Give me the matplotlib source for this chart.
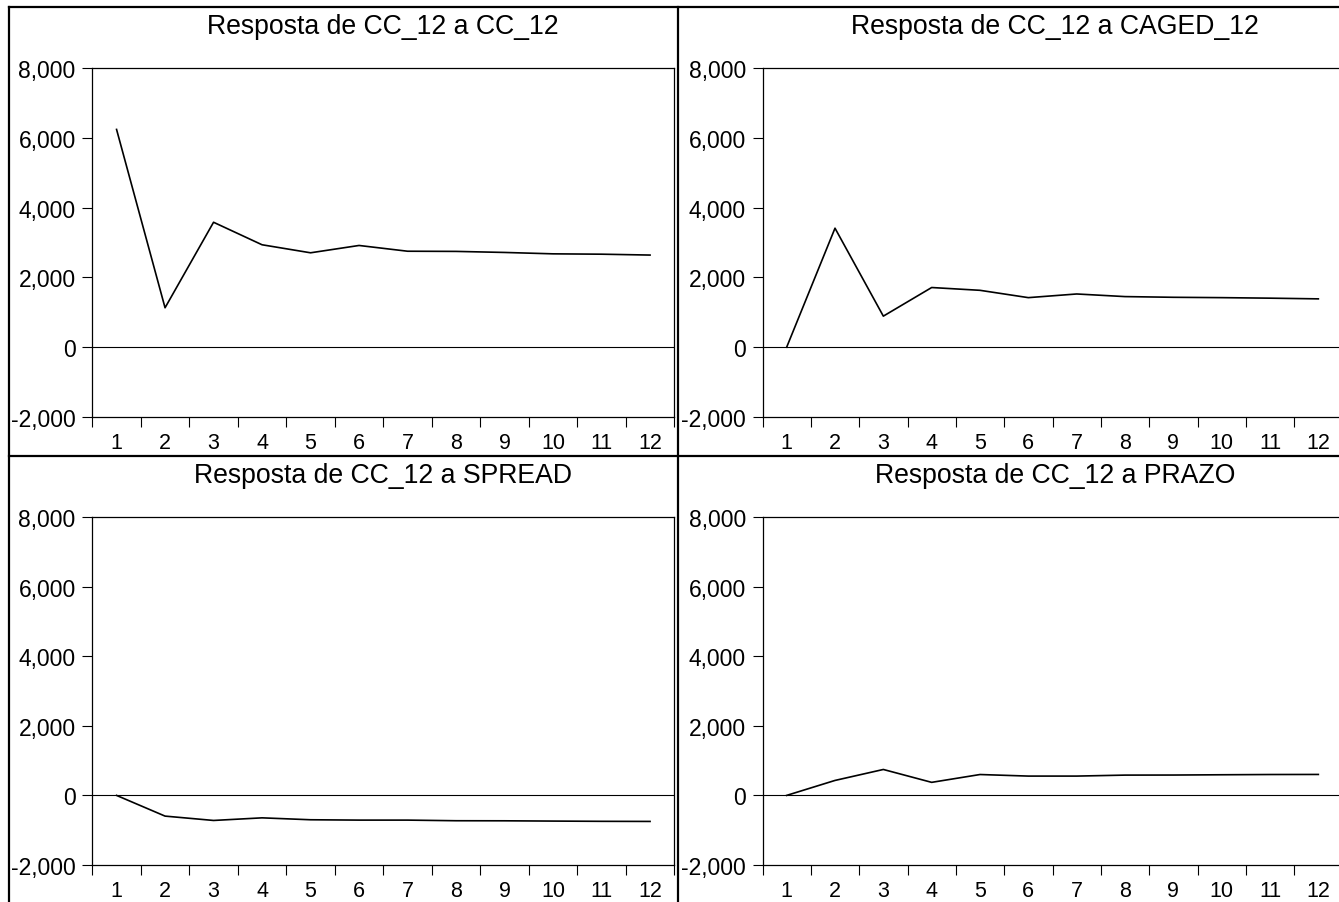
import matplotlib
matplotlib.use("Agg")
import matplotlib.pyplot as plt
from matplotlib.lines import Line2D
from matplotlib.ticker import FuncFormatter

plt.rcParams['font.family'] = ['Liberation Sans', 'DejaVu Sans']
plt.rcParams['axes.unicode_minus'] = False

periods = list(range(1, 13))
titles = ["Resposta de CC_12 a CC_12", "Resposta de CC_12 a CAGED_12",
          "Resposta de CC_12 a SPREAD", "Resposta de CC_12 a PRAZO"]
resp_cc = [6240, 1130, 3580, 2935, 2705, 2915, 2750, 2745, 2715, 2675, 2665, 2640]
resp_caged = [0, 3410, 890, 1710, 1630, 1420, 1525, 1450, 1430, 1420, 1405, 1385]
resp_spread = [0, -595, -720, -645, -700, -710, -710, -728, -730, -738, -745, -748]
resp_prazo = [0, 430, 745, 375, 600, 555, 555, 583, 585, 593, 600, 602]
series = [resp_cc, resp_caged, resp_spread, resp_prazo]
yticks = [-2000, 0, 2000, 4000, 6000, 8000]

W, H = 1339, 903
fig = plt.figure(figsize=(W / 100, H / 100), dpi=100)

def fx(px):
    return px / W

def fy(py):
    return 1 - py / H

# axes boxes in pixel coordinates: (left, top, right, bottom)
boxes = [(92.3, 69, 674.3, 418), (762.5, 69, 1342.5, 418),
         (92.3, 518, 674.3, 866), (762.5, 518, 1342.5, 866)]
title_base = [34, 34, 483, 483]

for i, (box, ys, title) in enumerate(zip(boxes, series, titles)):
    l, t, r, b = box
    ax = fig.add_axes([fx(l), fy(b), fx(r) - fx(l), fy(t) - fy(b)])
    ax.plot(periods, ys, color='black', lw=1.2)
    ax.axhline(0, color='black', lw=0.8)
    ax.set_xlim(0.5, 12.5)
    ax.set_ylim(-2000, 8000)
    ax.set_yticks(yticks)
    ax.yaxis.set_major_formatter(FuncFormatter(lambda v, p: f"{int(v):,}"))
    ax.set_xticks(periods)
    ax.set_xticklabels([str(p) for p in periods])
    ax.set_xticks([p + 0.5 for p in range(0, 13)], minor=True)
    ax.tick_params(axis='x', which='major', length=0, pad=11, labelsize=15.5)
    ax.tick_params(axis='x', which='minor', length=7, width=0.8, direction='out')
    ax.tick_params(axis='y', which='major', length=7, width=0.8, pad=5, labelsize=16.5)
    for s in ax.spines.values():
        s.set_linewidth(0.9)
    cx = (l + r) / 2
    if i % 2 == 1:
        cx = (l + min(r, W)) / 2 + 4
    fig.text(fx(cx), fy(title_base[i]), title, ha='center', va='baseline', fontsize=19.2)

# panel frames
lw = 1.6
fig.add_artist(Line2D([fx(9), fx(9)], [fy(8), 0], color='black', lw=lw))
fig.add_artist(Line2D([fx(678), fx(678)], [fy(8), 0], color='black', lw=lw))
fig.add_artist(Line2D([fx(9), 1], [fy(8), fy(8)], color='black', lw=lw))
fig.add_artist(Line2D([fx(9), 1], [fy(456.5), fy(456.5)], color='black', lw=lw))

fig.savefig("out.png", dpi=100)
